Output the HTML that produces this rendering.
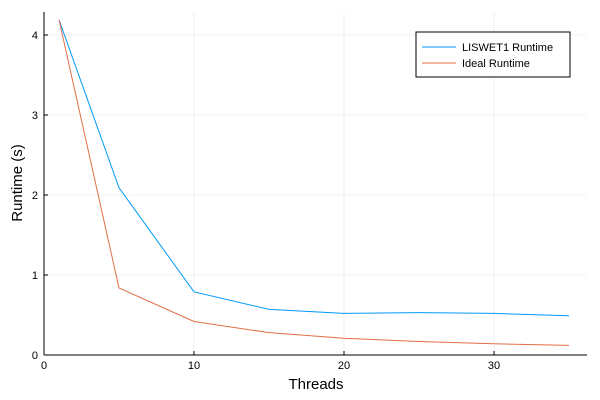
<!DOCTYPE html>
<html><head><meta charset="utf-8"><style>
body{margin:0;background:#fff;}
svg{display:block;font-family:"Liberation Sans","DejaVu Sans",sans-serif;}
</style></head><body>
<svg id="chart" width="600" height="400">
<g id="grid"></g>
<g id="axes"></g>
<g id="series"></g>
<g id="legend">
<rect x="416" y="32" width="154" height="45" fill="#fff" stroke="#000" stroke-width="1"/>
<line x1="422" y1="47" x2="456" y2="47" stroke="#009af9" stroke-width="1"/>
<text x="462" y="51" font-size="11">LISWET1 Runtime</text>
<line x1="422" y1="63" x2="456" y2="63" stroke="#e26f46" stroke-width="1"/>
<text x="462" y="67" font-size="11">Ideal Runtime</text>
</g>
<text x="316" y="389" font-size="15" text-anchor="middle">Threads</text>
<text transform="translate(22,183) rotate(-90)" font-size="15" text-anchor="middle">Runtime (s)</text>
</svg>
<script>
const threads=[1,5,10,15,20,25,30,35];
const liswet=[4.19,2.09,0.79,0.57,0.52,0.53,0.52,0.49];
const ideal=[4.19,0.838,0.419,0.279,0.21,0.168,0.14,0.12];
const xTicks=[0,10,20,30];
const yTicks=[0,1,2,3,4];
const X0=44,X1=587,Y0=355,Y1=12;
const xs=v=>X0+v*15;
const ys=v=>Y0-v*80;
const NS="http://www.w3.org/2000/svg";
function mk(tag,attrs,parent){const e=document.createElementNS(NS,tag);for(const k in attrs)e.setAttribute(k,attrs[k]);parent.appendChild(e);return e;}
const grid=document.getElementById('grid'),axes=document.getElementById('axes'),series=document.getElementById('series');
xTicks.forEach(t=>{
 const g=mk('line',{x1:xs(t),x2:xs(t),y1:Y1,y2:Y0,stroke:'#000','stroke-opacity':0.1,'stroke-width':0.5},grid);
 
 
 const tk=mk('line',{x1:xs(t),x2:xs(t),y1:Y0,y2:Y0-4,stroke:'#000','stroke-width':1},axes);
 
 
 const tx=mk('text',{x:xs(t),y:Y0+14,'font-size':11,'text-anchor':'middle'},axes);
 tx.textContent=t;
 
 
});
yTicks.forEach(t=>{
 const g=mk('line',{x1:X0,x2:X1,y1:ys(t),y2:ys(t),stroke:'#000','stroke-opacity':0.1,'stroke-width':0.5},grid);
 
 
 const tk=mk('line',{x1:X0,x2:X0+4,y1:ys(t),y2:ys(t),stroke:'#000','stroke-width':1},axes);
 
 
 const tx=mk('text',{x:X0-6,y:ys(t)+4,'font-size':11,'text-anchor':'end'},axes);
 tx.textContent=t;
 
 
});
const ax1=mk('line',{x1:X0,x2:X0,y1:Y1,y2:Y0,stroke:'#000','stroke-width':1},axes);


const ax2=mk('line',{x1:X0,x2:X1,y1:Y0,y2:Y0,stroke:'#000','stroke-width':1},axes);


function line(vals,color,name){
 const p=mk('polyline',{points:threads.map((t,i)=>xs(t)+','+ys(vals[i])).join(' '),fill:'none',stroke:color,'stroke-width':1},series);
 
 
}
line(liswet,'#009af9','liswet1-runtime-line');
line(ideal,'#e26f46','ideal-runtime-line');
</script>
</body></html>
